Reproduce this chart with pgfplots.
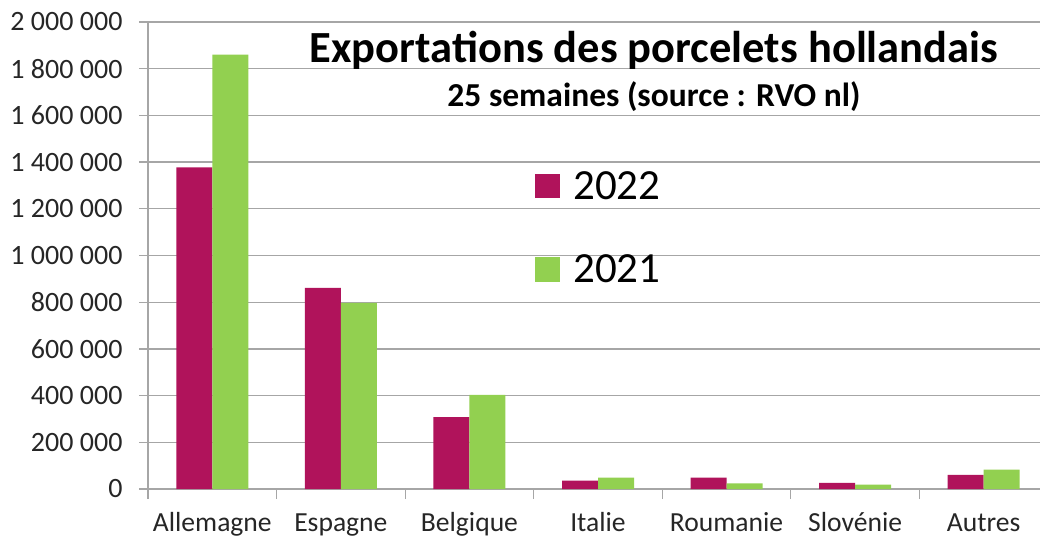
\documentclass[border=0pt]{standalone}
\usepackage{fontspec}
\setmainfont{Carlito}
\usepackage{pgfplots}
\pgfplotsset{compat=1.18}
\definecolor{maroon}{HTML}{B0135B}
\definecolor{lgreen}{HTML}{92D050}
\definecolor{gridgray}{HTML}{A6A6A6}
\definecolor{txt}{HTML}{262626}
\begin{document}
\begin{tikzpicture}[x=1pt,y=1pt]
\useasboundingbox (0pt,0pt) rectangle (1040pt,538pt);
\begin{axis}[
  at={(148pt,49pt)}, anchor=south west,
  scale only axis, width=900pt, height=467pt,
  xmin=-0.5, xmax=6.5, ymin=0, ymax=2000000,
  ytick={0,200000,...,2000000},
  scaled y ticks=false,
  yticklabel style={/pgf/number format/fixed, /pgf/number format/1000 sep={\ }, /pgf/number format/assume math mode=true},
  ymajorgrids, grid style={gridgray, line width=1.2pt},
  axis lines*=left, axis line style={gridgray, line width=1.2pt, -},
  tick align=outside, major tick length=9pt, minor tick length=10pt,
  tick style={gridgray, line width=1.2pt},
  xtick={0,...,6},
  xticklabels={Allemagne,Espagne,Belgique,Italie,Roumanie,Slovénie,Autres},
  major x tick style={draw=none},
  minor xtick={-0.5,0.5,...,6.5},
  tick label style={font=\fontsize{28}{33}\selectfont, text=txt},
  x tick label style={anchor=base, yshift=-33pt, font=\fontsize{27.6}{33}\selectfont},
  y tick label style={xshift=-13pt},
  clip=false,
]
\addplot[ybar, bar width=36pt, bar shift=-18pt, fill=maroon, draw=none]
  coordinates {(0,1377000) (1,861000) (2,308000) (3,36000) (4,49000) (5,26000) (6,61000)};
\addplot[ybar, bar width=36pt, bar shift=18pt, fill=lgreen, draw=none]
  coordinates {(0,1860000) (1,797000) (2,403000) (3,49000) (4,24000) (5,19000) (6,83000)};
\end{axis}
\node[anchor=base, inner sep=0pt, font=\fontsize{44.5}{50}\selectfont\bfseries] at (654pt,475.7pt) {Exportations des porcelets hollandais};
\node[anchor=base, inner sep=0pt, font=\fontsize{33.5}{38}\selectfont\bfseries] at (654pt,431.3pt) {25 semaines (source : RVO nl)};
\fill[maroon] (535pt,339.7pt) rectangle (560pt,364pt);
\node[anchor=base west, inner sep=0pt, font=\fontsize{43}{48}\selectfont] at (573pt,338.7pt) {2022};
\fill[lgreen] (535pt,255.7pt) rectangle (560pt,281.3pt);
\node[anchor=base west, inner sep=0pt, font=\fontsize{43}{48}\selectfont] at (573pt,255pt) {2021};
\end{tikzpicture}
\end{document}
